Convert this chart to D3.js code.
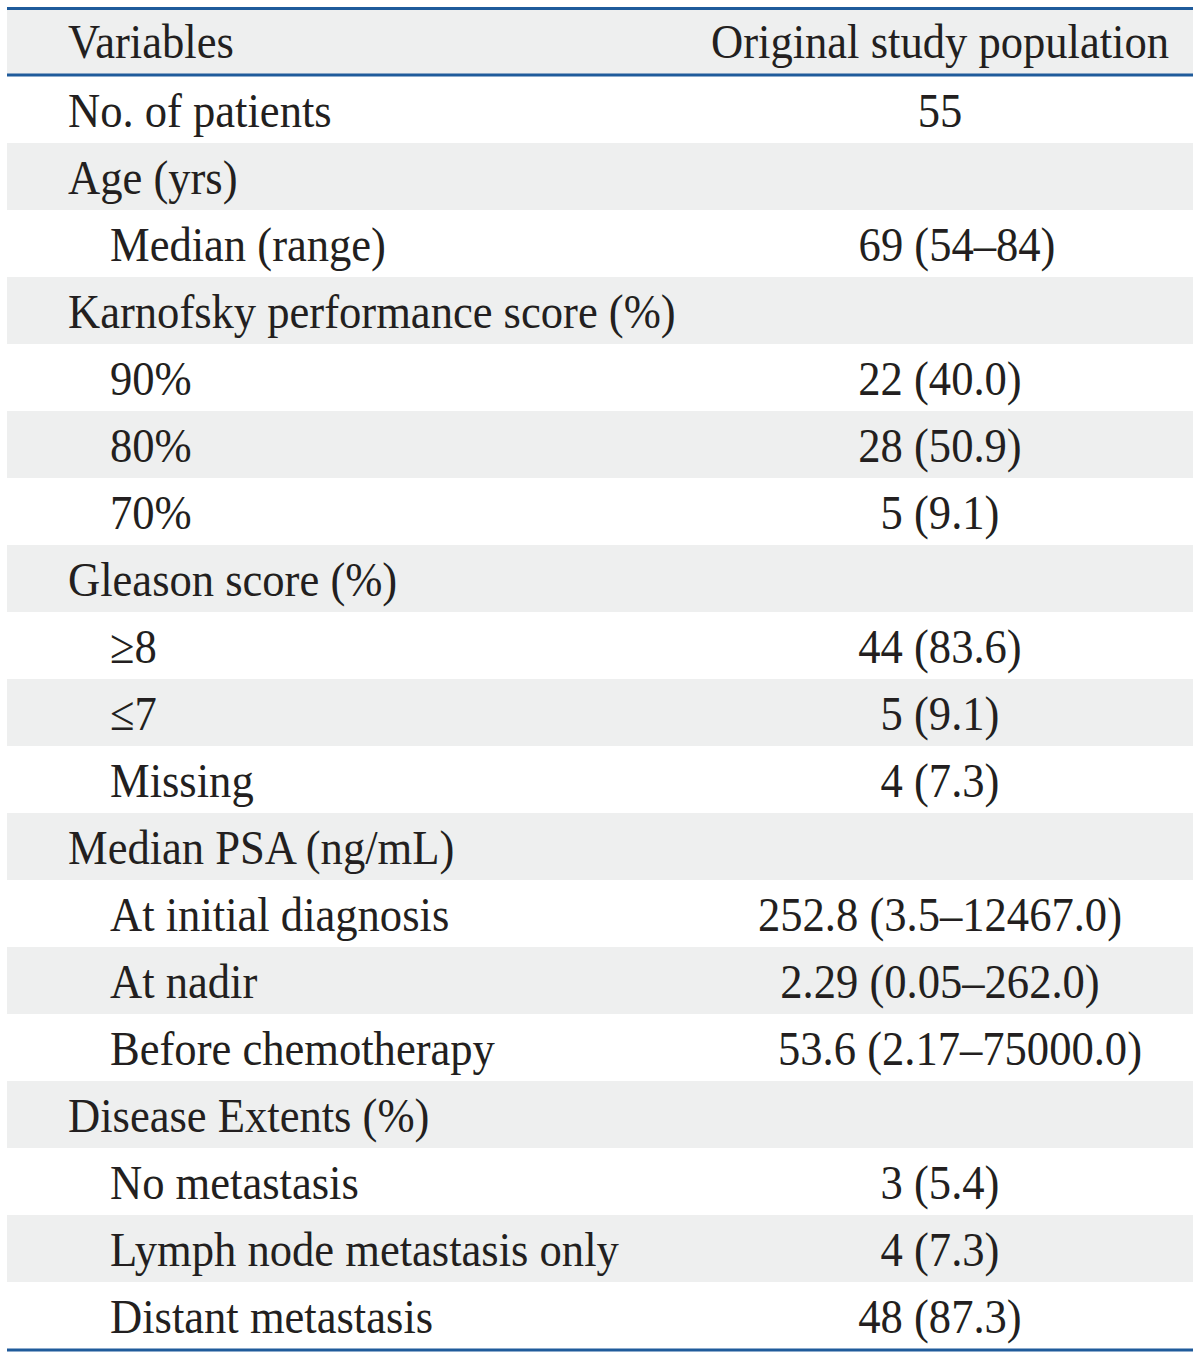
<!DOCTYPE html>
<html>
<head>
<meta charset="utf-8">
<script src="https://cdn.jsdelivr.net/npm/d3@7/dist/d3.min.js"></script>
<style>
  html, body { margin: 0; padding: 0; background: #ffffff; }
  svg { display: block; }
  text { font-family: "Liberation Serif", "Times New Roman", serif; fill: #231f20; }
</style>
</head>
<body>
<svg id="chart" width="1200" height="1359"></svg>
<script>
// ---- data ----
const headers = ["Variables", "Original study population"];
const variables = [
  "No. of patients",
  "Age (yrs)",
  "Median (range)",
  "Karnofsky performance score (%)",
  "90%",
  "80%",
  "70%",
  "Gleason score (%)",
  "≥8",
  "≤7",
  "Missing",
  "Median PSA (ng/mL)",
  "At initial diagnosis",
  "At nadir",
  "Before chemotherapy",
  "Disease Extents (%)",
  "No metastasis",
  "Lymph node metastasis only",
  "Distant metastasis"
];
const indentLevel = [0,0,1,0,1,1,1,0,1,1,1,0,1,1,1,0,1,1,1];
const values = [
  "55",
  "",
  "69 (54–84)",
  "",
  "22 (40.0)",
  "28 (50.9)",
  "5 (9.1)",
  "",
  "44 (83.6)",
  "5 (9.1)",
  "4 (7.3)",
  "",
  "252.8 (3.5–12467.0)",
  "2.29 (0.05–262.0)",
  "53.6 (2.17–75000.0)",
  "",
  "3 (5.4)",
  "4 (7.3)",
  "48 (87.3)"
];

// ---- layout ----
const svg = d3.select("#chart");
const left = 7, right = 1193;
const headerTop = 9.5, headerBottom = 75;
const rowsTop = 76, rowsBottom = 1349;
const lineColor = "#1f5b9b";
const stripe = "#eeefef";
const fontSize = 49, sx = 0.91;
// typesetting quirks of the original (a few cells sit slightly right of centre)
const cellNudge = {2: 17, 14: 20};

const y = d3.scaleBand()
  .domain(d3.range(variables.length))
  .range([rowsTop, rowsBottom])
  .paddingInner(0).paddingOuter(0);

const xText = d3.scaleOrdinal().domain([0, 1]).range([68, 110]);
const valueCenter = 940;

// header background
svg.append("rect")
  .attr("x", left).attr("y", headerTop)
  .attr("width", right - left).attr("height", headerBottom - headerTop)
  .attr("fill", stripe);

// row stripes
svg.append("g").selectAll("rect")
  .data(d3.range(variables.length).filter(i => i % 2 === 1))
  .join("rect")
  .attr("x", left)
  .attr("y", i => y(i))
  .attr("width", right - left)
  .attr("height", y.bandwidth())
  .attr("fill", stripe);

// rules
const rules = [
  {y: 8.5, w: 3},
  {y: 75, w: 3},
  {y: 1350, w: 3}
];
svg.append("g").selectAll("line")
  .data(rules)
  .join("line")
  .attr("x1", left).attr("x2", right)
  .attr("y1", d => d.y).attr("y2", d => d.y)
  .attr("stroke", lineColor)
  .attr("stroke-width", d => d.w);

function txt(g, s, x, yb, anchor) {
  g.append("text")
    .attr("transform", `translate(${x},${yb}) scale(${sx},1)`)
    .attr("text-anchor", anchor)
    .attr("font-size", fontSize)
    .text(s);
}

// header text
const hg = svg.append("g");
txt(hg, headers[0], 68, 58, "start");
txt(hg, headers[1], valueCenter, 58, "middle");

// body text
const bg = svg.append("g");
variables.forEach((v, i) => {
  const base = y(i) + 50.7;
  txt(bg, v, xText(indentLevel[i]), base, "start");
  if (values[i]) txt(bg, values[i], valueCenter + (cellNudge[i] || 0), base, "middle");
});
</script>
</body>
</html>
